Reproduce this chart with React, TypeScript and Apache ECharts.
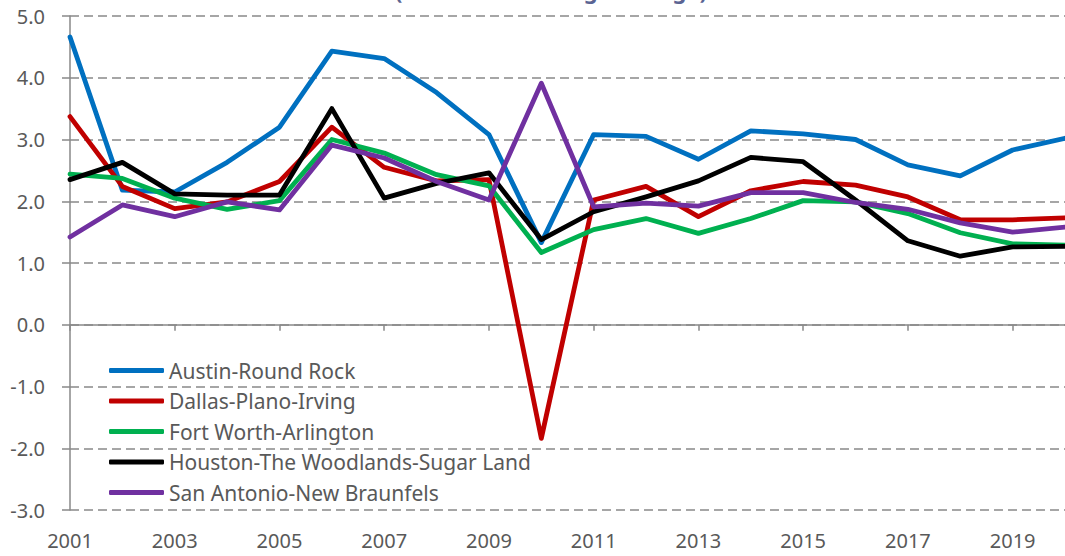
import React, { useEffect, useRef } from "react";
import * as echarts from "echarts";

const years = ["2001","2002","2003","2004","2005","2006","2007","2008","2009","2010","2011","2012","2013","2014","2015","2016","2017","2018","2019","2020"];
const austin = [4.66, 2.18, 2.15, 2.63, 3.20, 4.43, 4.31, 3.76, 3.08, 1.33, 3.08, 3.05, 2.68, 3.14, 3.09, 3.00, 2.59, 2.41, 2.83, 3.02];
const dallas = [3.37, 2.24, 1.88, 1.99, 2.32, 3.20, 2.55, 2.33, 2.35, -1.84, 2.02, 2.24, 1.75, 2.17, 2.32, 2.26, 2.07, 1.70, 1.70, 1.73];
const fortWorth = [2.44, 2.37, 2.05, 1.87, 2.01, 3.00, 2.78, 2.43, 2.25, 1.17, 1.54, 1.72, 1.48, 1.72, 2.01, 1.99, 1.80, 1.49, 1.31, 1.29];
const houston = [2.35, 2.63, 2.12, 2.10, 2.10, 3.50, 2.05, 2.29, 2.46, 1.38, 1.83, 2.07, 2.33, 2.71, 2.64, 2.02, 1.36, 1.11, 1.26, 1.27];
const sanAntonio = [1.42, 1.94, 1.75, 1.99, 1.86, 2.91, 2.70, 2.32, 2.02, 3.91, 1.91, 1.97, 1.92, 2.14, 2.14, 1.98, 1.87, 1.65, 1.50, 1.58];

const seriesNames = [
  "Austin-Round Rock",
  "Dallas-Plano-Irving",
  "Fort Worth-Arlington",
  "Houston-The Woodlands-Sugar Land",
  "San Antonio-New Braunfels",
];
const seriesData = [austin, dallas, fortWorth, houston, sanAntonio];
const seriesColors = ["#0070C0", "#C00000", "#00B050", "#000000", "#7030A0"];
const titleText = "(Annual Percentage Change)";

const FONT = "'Noto Sans', sans-serif";
const AXIS_GRAY = "#898989";
const TEXT_GRAY = "#595959";

export default function App() {
  const ref = useRef<HTMLDivElement>(null);
  useEffect(() => {
    if (!ref.current) return;
    const chart = echarts.init(ref.current, null, { renderer: "svg" });
    chart.setOption({
      animation: false,
      backgroundColor: "#ffffff",
      textStyle: { fontFamily: FONT },
      graphic: [
        {
          type: "text",
          x: 551,
          y: -10,
          style: {
            text: titleText,
            fontFamily: FONT,
            fontSize: 22,
            fontWeight: "bold",
            fill: "#5B6493",
            textAlign: "center",
            textVerticalAlign: "middle",
          },
        },
      ],
      grid: { left: 70, right: -3, top: 16, bottom: 46, containLabel: false },
      legend: {
        orient: "vertical",
        left: 104,
        top: 355,
        itemWidth: 55,
        itemHeight: 5,
        itemGap: 9.5,
        icon: "roundRect",
        textStyle: { fontFamily: FONT, fontSize: 21, color: TEXT_GRAY, lineHeight: 21 },
        data: seriesNames,
      },
      xAxis: [
        {
          type: "category",
          data: years,
          boundaryGap: false,
          axisLine: { show: true, onZero: true, lineStyle: { color: AXIS_GRAY, width: 1.5 } },
          axisTick: { show: true, interval: 1, length: 6, lineStyle: { color: AXIS_GRAY, width: 1.5 } },
          axisLabel: { show: false },
          splitLine: { show: false },
        },
        {
          type: "category",
          data: years,
          boundaryGap: false,
          position: "bottom",
          axisLine: { show: false, onZero: false },
          axisTick: { show: false },
          axisLabel: { show: true, interval: 1, fontFamily: FONT, fontSize: 20, color: TEXT_GRAY, margin: 20 },
          splitLine: { show: false },
        },
      ],
      yAxis: {
        type: "value",
        min: -3,
        max: 5,
        interval: 1,
        axisLine: { show: true, onZero: false, lineStyle: { color: AXIS_GRAY, width: 1.5 } },
        axisTick: { show: true, length: 8, lineStyle: { color: AXIS_GRAY, width: 1.5 } },
        axisLabel: {
          fontFamily: FONT,
          fontSize: 20,
          color: TEXT_GRAY,
          margin: 25,
          formatter: (v: number) => v.toFixed(1),
        },
        splitLine: { show: true, lineStyle: { color: AXIS_GRAY, width: 1.5, type: [9, 5] } },
      },
      series: seriesNames.map((name, i) => ({
        name,
        type: "line",
        xAxisIndex: 0,
        data: seriesData[i],
        symbol: "none",
        showSymbol: false,
        color: seriesColors[i],
        lineStyle: { color: seriesColors[i], width: 4.8, join: "round", cap: "round" },
        itemStyle: { color: seriesColors[i] },
        z: 2 + i,
      })),
    });
    return () => chart.dispose();
  }, []);
  return (
    <div
      ref={ref}
      style={{ position: "fixed", left: 0, top: 0, width: 1065, height: 556 }}
    />
  );
}
